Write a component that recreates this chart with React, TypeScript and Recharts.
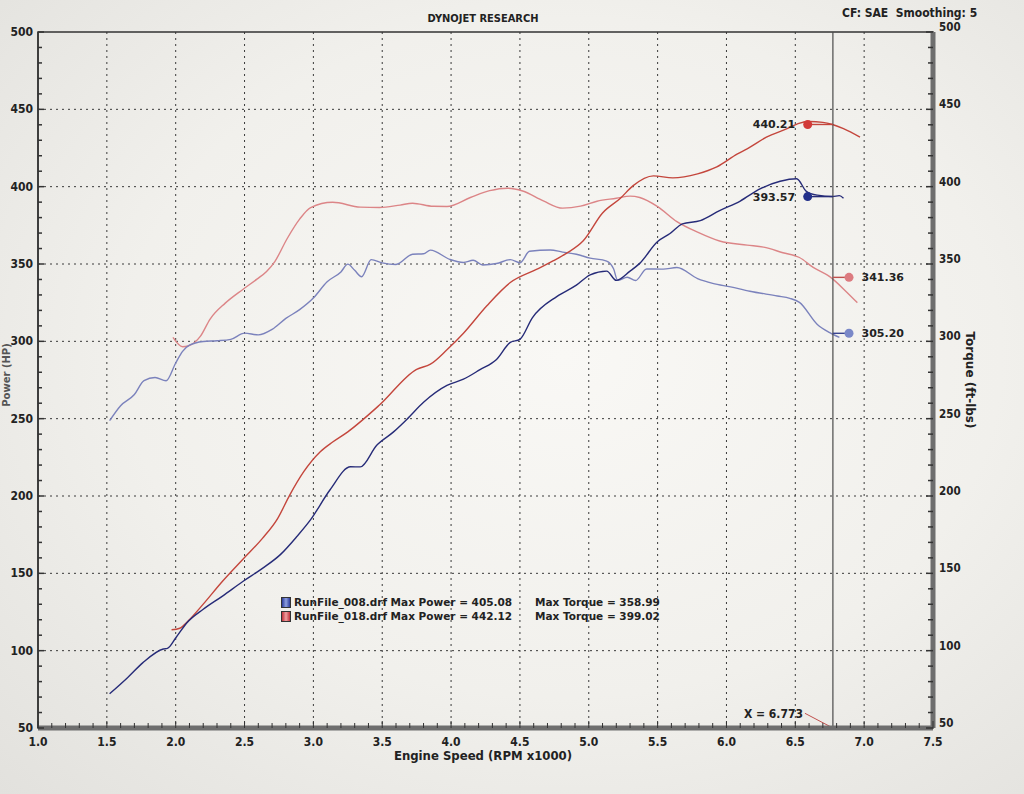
import {
  CartesianGrid,
  Line,
  LineChart,
  ReferenceArea,
  ReferenceDot,
  ReferenceLine,
  XAxis,
  YAxis,
} from "recharts"

// engine speed (RPM x1000) / values
const power008Rpm = [1.52, 1.65, 1.76, 1.91, 1.94, 2.0, 2.08, 2.2, 2.34, 2.49, 2.63, 2.76, 2.88, 2.98, 3.12, 3.27, 3.34, 3.46, 3.58, 3.68, 3.8, 3.97, 4.09, 4.21, 4.33, 4.43, 4.5, 4.59, 4.77, 4.91, 5.01, 5.13, 5.2, 5.3, 5.37, 5.5, 5.59, 5.68, 5.81, 5.95, 6.1, 6.24, 6.39, 6.51, 6.58, 6.66, 6.77, 6.82, 6.85]
const power008 = [72.1, 82.5, 92.1, 101.1, 101.5, 108.2, 117.9, 126.8, 135.3, 144.9, 153.2, 162.1, 173.8, 184.7, 203.9, 218.9, 218.8, 232.8, 241.3, 249.7, 260.6, 271.5, 275.5, 281.7, 288.3, 299.3, 301.3, 315.2, 329.1, 336.3, 343, 345.4, 339.4, 345.4, 350.4, 364.5, 369.7, 376, 378, 384.5, 390.7, 398.4, 403.5, 405.1, 397, 394.5, 393.6, 394.2, 392.5]

const power018Rpm = [1.97, 2.03, 2.09, 2.2, 2.34, 2.49, 2.63, 2.74, 2.83, 2.93, 3.05, 3.14, 3.25, 3.48, 3.75, 3.85, 3.97, 4.09, 4.26, 4.43, 4.62, 4.74, 4.84, 4.96, 5.1, 5.23, 5.32, 5.47, 5.61, 5.79, 5.93, 6.08, 6.15, 6.29, 6.44, 6.52, 6.6, 6.7, 6.77, 6.85, 6.97]
const power018 = [113.5, 114.5, 119.2, 130.1, 144.9, 159.3, 172.6, 185.4, 200.9, 215.7, 228.6, 234.9, 241.5, 258.8, 281.9, 285.2, 294.5, 305.2, 323, 338, 346.5, 352, 357, 365, 383, 392.5, 400.5, 407, 405.7, 408.3, 412.8, 421.2, 424.4, 432, 437.5, 440.8, 442.1, 441.6, 440.2, 437.5, 432]

const torque008Rpm = [1.52, 1.6, 1.7, 1.77, 1.85, 1.93, 2.0, 2.05, 2.1, 2.2, 2.3, 2.4, 2.5, 2.6, 2.7, 2.8, 2.9, 3.0, 3.1, 3.2, 3.25, 3.3, 3.35, 3.42, 3.5, 3.6, 3.72, 3.8, 3.85, 3.99, 4.09, 4.16, 4.23, 4.33, 4.43, 4.5, 4.57, 4.72, 4.81, 4.91, 5.01, 5.13, 5.18, 5.21, 5.28, 5.34, 5.42, 5.54, 5.64, 5.79, 5.9, 6.03, 6.17, 6.37, 6.46, 6.53, 6.66, 6.75, 6.82]
const torque008 = [248.7, 258.4, 265.6, 274.6, 276.6, 274.5, 286, 293.5, 297.5, 299.9, 300.4, 301.3, 305.3, 304.2, 307.7, 314.8, 320.5, 328, 338.5, 344.9, 349.9, 345.9, 341.8, 352.8, 350.7, 349.7, 356.3, 356.6, 359, 353, 351, 352.4, 349.4, 350.3, 352.8, 350.8, 358.2, 359.1, 357.7, 356.3, 353.8, 351.9, 346.9, 339.4, 341.4, 339.3, 346.8, 346.7, 347.7, 340.6, 337.5, 335.2, 332.4, 329.3, 327.8, 325.2, 310.9, 305.6, 302.5]

const torque018Rpm = [1.98, 2.05, 2.09, 2.18, 2.25, 2.36, 2.49, 2.59, 2.66, 2.72, 2.81, 2.9, 2.98, 3.14, 3.34, 3.48, 3.63, 3.72, 3.87, 3.97, 4.14, 4.28, 4.41, 4.52, 4.67, 4.81, 4.94, 5.06, 5.2, 5.3, 5.37, 5.5, 5.64, 5.79, 5.95, 6.15, 6.27, 6.41, 6.53, 6.63, 6.75, 6.87, 6.95]
const torque018 = [302.5, 296.5, 297, 303.4, 314.4, 324.7, 333.7, 340.2, 345.2, 351.6, 366.5, 379, 386.5, 389.9, 386.8, 386.5, 388.1, 389.3, 387.3, 387.2, 393, 397.4, 399, 397.2, 390.8, 386.1, 387.4, 390.6, 392.5, 393.9, 393, 387.1, 377.4, 370.6, 364.9, 362.2, 360.9, 357.3, 354.2, 347.8, 341.8, 332.1, 325]

const rpmMajor = [1.0, 1.5, 2.0, 2.5, 3.0, 3.5, 4.0, 4.5, 5.0, 5.5, 6.0, 6.5, 7.0, 7.5]
const valueMajor = [50, 100, 150, 200, 250, 300, 350, 400, 450, 500]

const runFiles = ["RunFile_008.drf", "RunFile_018.drf"]
const maxPower = ["405.08", "442.12"]
const maxTorque = ["358.99", "399.02"]

const cursorRpm = 6.773
const cursorPower = [393.57, 440.21]
const cursorTorque = [305.2, 341.36]

const rpmMinor: number[] = []
for (let i = 10; i <= 75; i++) rpmMinor.push(i / 10)
const valueMinor: number[] = []
for (let v = 50; v <= 500; v += 10) valueMinor.push(v)

const toPoints = (rpm: number[], vals: number[]) => rpm.map((r, i) => ({ rpm: r, v: vals[i] }))

const blueDark = "#262b78"
const blueLight = "#7b82bc"
const redDark = "#c4463c"
const redLight = "#dc8587"

const tickFont = '"DejaVu Sans Condensed", "DejaVu Sans", sans-serif'
const valueFont = '"DejaVu Sans", Verdana, sans-serif'

const XTick = (p: any) => {
  const v = Math.round(p.payload.value * 10) / 10
  const major = rpmMajor.includes(v)
  return (
    <g>
      <line x1={p.x} x2={p.x} y1={p.y - (major ? 7 : 5)} y2={p.y} stroke="#333" strokeWidth={1} />
      {major && (
        <text x={p.x} y={p.y + 18} textAnchor="middle" fontFamily={tickFont} fontWeight="bold" fontSize={12} fill="#222">
          {v.toFixed(1)}
        </text>
      )}
    </g>
  )
}

const LeftTick = (p: any) => {
  const v = p.payload.value
  const major = valueMajor.includes(v)
  return (
    <g>
      <line x1={p.x} x2={p.x + (major ? 6 : 4)} y1={p.y} y2={p.y} stroke="#333" strokeWidth={1.5} />
      {major && (
        <text x={p.x - 5} y={p.y + 4} textAnchor="end" fontFamily={tickFont} fontWeight="bold" fontSize={12} fill="#222">
          {v}
        </text>
      )}
    </g>
  )
}

const RightTick = (p: any) => {
  const v = p.payload.value
  const major = valueMajor.includes(v)
  return (
    <g>
      <line x1={p.x - (major ? 7 : 5)} x2={p.x} y1={p.y} y2={p.y} stroke="#333" strokeWidth={1.5} />
      {major && (
        <text x={p.x + 6} y={p.y - 1} textAnchor="start" fontFamily={tickFont} fontWeight="bold" fontSize={11.5} fill="#222">
          {v}
        </text>
      )}
    </g>
  )
}

const valueLabel = (text: string, position: "left" | "right") => ({
  value: text,
  position,
  offset: 8,
  fill: "#222",
  fontSize: 11,
  fontWeight: "bold",
  fontFamily: valueFont,
})

const App = () => {
  const lines = [
    { key: "t018", data: toPoints(torque018Rpm, torque018), color: redLight },
    { key: "t008", data: toPoints(torque008Rpm, torque008), color: blueLight },
    { key: "p018", data: toPoints(power018Rpm, power018), color: redDark },
    { key: "p008", data: toPoints(power008Rpm, power008), color: blueDark },
  ]

  return (
    <div
      style={{
        position: "absolute",
        left: 0,
        top: 0,
        width: 1024,
        height: 794,
        overflow: "hidden",
        background: "radial-gradient(ellipse at 55% 45%, #f9f8f5 0%, #f1f0ec 55%, #e2e1dd 100%)",
      }}
    >
      <div style={{ position: "absolute", left: 0, top: 12, width: 966, textAlign: "center", font: `bold 11px ${tickFont}`, color: "#222" }}>
        DYNOJET RESEARCH
      </div>
      <div style={{ position: "absolute", left: 842, top: 6, font: `bold 12px ${tickFont}`, color: "#222", whiteSpace: "pre" }}>
        CF: SAE  Smoothing: 5
      </div>
      <div style={{ position: "absolute", left: 0, top: 748, width: 966, textAlign: "center", font: `bold 13px ${tickFont}`, color: "#222" }}>
        Engine Speed (RPM x1000)
      </div>
      <div
        style={{
          position: "absolute",
          left: 970,
          top: 380,
          transform: "translate(-50%, -50%) rotate(90deg)",
          font: `bold 12px ${valueFont}`,
          color: "#222",
          whiteSpace: "nowrap",
        }}
      >
        Torque (ft-lbs)
      </div>
      <div
        style={{
          position: "absolute",
          left: 6,
          top: 375,
          transform: "translate(-50%, -50%) rotate(-90deg)",
          font: `bold 10px ${valueFont}`,
          color: "#555",
          whiteSpace: "nowrap",
        }}
      >
        Power (HP)
      </div>

      <LineChart width={1024} height={794} margin={{ top: 32, right: 51, bottom: 36, left: 8 }} style={{ position: "absolute", left: 0, top: 0 }}>
        <CartesianGrid
          yAxisId="left"
          stroke="#3a3a3a"
          strokeDasharray="2 4"
          verticalValues={[1.5, 2.0, 2.5, 3.0, 3.5, 4.0, 4.5, 5.0, 5.5, 6.0, 6.5, 7.0]}
          horizontalValues={[100, 150, 200, 250, 300, 350, 400, 450]}
        />
        <XAxis
          dataKey="rpm"
          type="number"
          domain={[1, 7.5]}
          ticks={rpmMinor}
          interval={0}
          height={30}
          tickSize={0}
          tickMargin={0}
          tickLine={false}
          tick={XTick}
          axisLine={{ stroke: "#6e6e6e", strokeWidth: 5 }}
        />
        <YAxis
          yAxisId="left"
          type="number"
          domain={[50, 500]}
          ticks={valueMinor}
          interval={0}
          width={30}
          tickSize={0}
          tickMargin={0}
          tickLine={false}
          tick={LeftTick}
          axisLine={{ stroke: "#333", strokeWidth: 1.5 }}
        />
        <YAxis
          yAxisId="right"
          orientation="right"
          type="number"
          domain={[50, 500]}
          ticks={valueMinor}
          interval={0}
          width={40}
          tickSize={0}
          tickMargin={0}
          tickLine={false}
          tick={RightTick}
          axisLine={{ stroke: "#6e6e6e", strokeWidth: 5 }}
        />
        <ReferenceArea yAxisId="left" x1={1} x2={7.5} y1={50} y2={500} fill="none" stroke="#333" strokeWidth={1.5} ifOverflow="visible" />

        {lines.map((l) => (
          <Line
            key={l.key}
            yAxisId={l.key.startsWith("t") ? "right" : "left"}
            data={l.data}
            dataKey="v"
            type="monotone"
            stroke={l.color}
            strokeWidth={1.4}
            dot={false}
            activeDot={false}
            isAnimationActive={false}
          />
        ))}

        <ReferenceLine yAxisId="left" x={cursorRpm} stroke="#4a4a4a" strokeWidth={1.2} />
        <ReferenceLine
          yAxisId="left"
          segment={[{ x: 6.57, y: 59.5 }, { x: cursorRpm, y: 50 }]}
          stroke="#c0504d"
          strokeWidth={1}
          ifOverflow="visible"
        />
        <ReferenceDot
          yAxisId="left"
          x={6.57}
          y={59.5}
          r={0}
          fill="none"
          stroke="none"
          label={{ value: "X = 6.773", position: "left", offset: 2, fill: "#222", fontSize: 12, fontWeight: "bold", fontFamily: tickFont }}
        />

        {cursorPower.map((v, i) => (
          <ReferenceLine
            key={`pl${i}`}
            yAxisId="left"
            segment={[{ x: 6.59, y: v }, { x: cursorRpm, y: v }]}
            stroke={i === 0 ? blueDark : redDark}
            strokeWidth={1.4}
          />
        ))}
        {cursorPower.map((v, i) => (
          <ReferenceDot
            key={`pd${i}`}
            yAxisId="left"
            x={6.59}
            y={v}
            r={4.5}
            fill={i === 0 ? "#23308a" : "#d23a38"}
            stroke="none"
            label={valueLabel(v.toFixed(2), "left")}
          />
        ))}
        {cursorTorque.map((v, i) => (
          <ReferenceLine
            key={`tl${i}`}
            yAxisId="right"
            segment={[{ x: cursorRpm, y: v }, { x: 6.89, y: v }]}
            stroke={i === 0 ? "#3b4590" : "#c0504d"}
            strokeWidth={1.4}
          />
        ))}
        {cursorTorque.map((v, i) => (
          <ReferenceDot
            key={`td${i}`}
            yAxisId="right"
            x={6.89}
            y={v}
            r={4.5}
            fill={i === 0 ? "#7a88c8" : "#dc7b80"}
            stroke="none"
            label={valueLabel(v.toFixed(2), "right")}
          />
        ))}
      </LineChart>

      <div style={{ position: "absolute", left: 281, top: 595, font: `bold 10.5px ${valueFont}`, color: "#222", lineHeight: "14px" }}>
        {runFiles.map((f, i) => (
          <div key={f} style={{ display: "flex", alignItems: "center", whiteSpace: "pre" }}>
            <span
              style={{
                display: "inline-block",
                width: 8,
                height: 9,
                marginRight: 3,
                border: "1px solid #333",
                background: i === 0 ? "linear-gradient(90deg, #2b3a9a, #8ea0e0 50%, #2b3a9a)" : "linear-gradient(90deg, #c0303a, #f0a0a0 50%, #c0303a)",
              }}
            />
            <span style={{ width: 241 }}>{`${f} Max Power = ${maxPower[i]}`}</span>
            <span>{`Max Torque = ${maxTorque[i]}`}</span>
          </div>
        ))}
      </div>
    </div>
  )
}

export default App
